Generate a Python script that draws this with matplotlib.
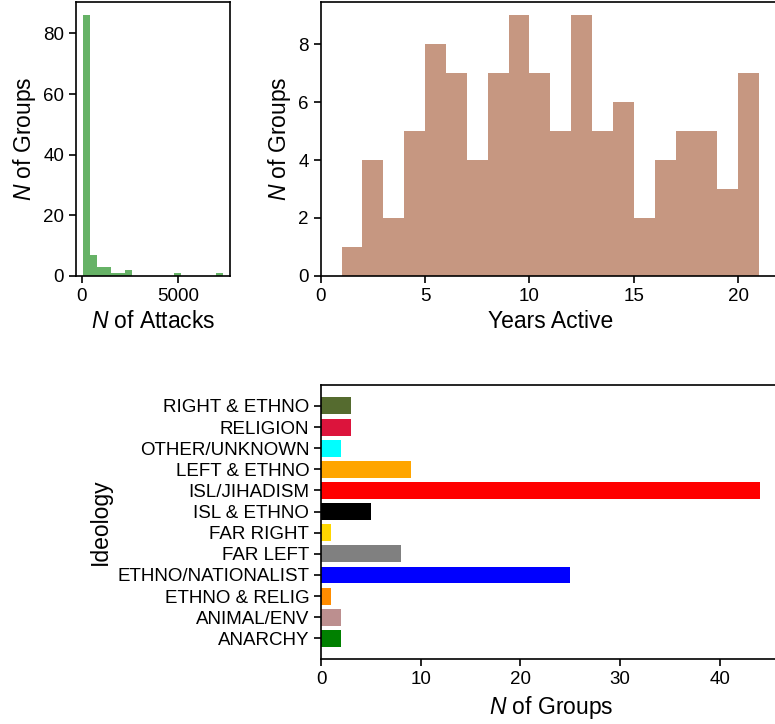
#!/usr/bin/env python3
"""Group activity overview: attacks per group, years active and ideology counts."""

import matplotlib

matplotlib.use("Agg")
import matplotlib.pyplot as plt
import numpy as np

plt.rcParams["font.family"] = ["Liberation Sans", "DejaVu Sans"]
plt.rcParams["mathtext.fontset"] = "custom"
plt.rcParams["mathtext.it"] = "Liberation Sans:italic"
plt.rcParams["mathtext.rm"] = "Liberation Sans"
plt.rcParams["axes.linewidth"] = 1.2

# attacks per group, 20 equal-width bins
attack_edges = [68, 432, 797, 1161, 1525, 1890, 2254, 2618, 2983, 3347, 3711,
                4075, 4440, 4804, 5168, 5533, 5897, 6261, 6626, 6990, 7354]
attack_counts = [86, 7, 3, 3, 1, 1, 2, 0, 0, 0, 0, 0, 0, 1, 0, 0, 0, 0, 0, 1]

# years active, one-year bins
year_edges = list(range(1, 22))
year_counts = [1, 4, 2, 5, 8, 7, 4, 7, 9, 7, 5, 9, 5, 6, 2, 4, 5, 5, 3, 7]

ideologies = ["ANARCHY", "ANIMAL/ENV", "ETHNO & RELIG", "ETHNO/NATIONALIST",
              "FAR LEFT", "FAR RIGHT", "ISL & ETHNO", "ISL/JIHADISM",
              "LEFT & ETHNO", "OTHER/UNKNOWN", "RELIGION", "RIGHT & ETHNO"]
ideology_counts = [2, 2, 1, 25, 8, 1, 5, 44, 9, 2, 3, 3]
ideology_colors = ["green", "rosybrown", "darkorange", "blue", "gray", "gold",
                   "black", "red", "orange", "cyan", "crimson", "darkolivegreen"]

TICK = 13.5
LABEL = 16.5

fig = plt.figure(figsize=(7.75, 7.24), dpi=100)
ax_att = fig.add_axes([0.098, 0.619, 0.199, 0.378])
ax_yrs = fig.add_axes([0.4138, 0.619, 0.5926, 0.378])
ax_ide = fig.add_axes([0.4142, 0.0894, 0.5943, 0.3788])

mids = 0.5 * (np.array(attack_edges[:-1]) + np.array(attack_edges[1:]))
ax_att.hist(mids, bins=attack_edges, weights=attack_counts, color="green", alpha=0.6)
ax_att.set_xlabel("$N$ of Attacks", fontsize=LABEL)
ax_att.set_ylabel("$N$ of Groups", fontsize=LABEL)
ax_att.set_xticks([0, 5000])
ax_att.set_yticks([0, 20, 40, 60, 80])

ymids = np.array(year_edges[:-1]) + 0.5
ax_yrs.hist(ymids, bins=year_edges, weights=year_counts, color="sienna", alpha=0.6)
ax_yrs.set_xlabel("Years Active", fontsize=LABEL)
ax_yrs.set_ylabel("$N$ of Groups", fontsize=LABEL)
ax_yrs.set_xticks([0, 5, 10, 15, 20])
ax_yrs.set_yticks([0, 2, 4, 6, 8])

ypos = np.arange(len(ideologies))
ax_ide.barh(ypos, ideology_counts, color=ideology_colors)
ax_ide.set_yticks(ypos)
ax_ide.set_yticklabels(ideologies)
ax_ide.set_xticks([0, 10, 20, 30, 40])
ax_ide.set_xlabel("$N$ of Groups", fontsize=LABEL)
ax_ide.set_ylabel("Ideology", fontsize=LABEL)

for ax in (ax_att, ax_yrs, ax_ide):
    ax.tick_params(labelsize=TICK, width=1.2, length=5)

fig.savefig("out.png", dpi=100)
